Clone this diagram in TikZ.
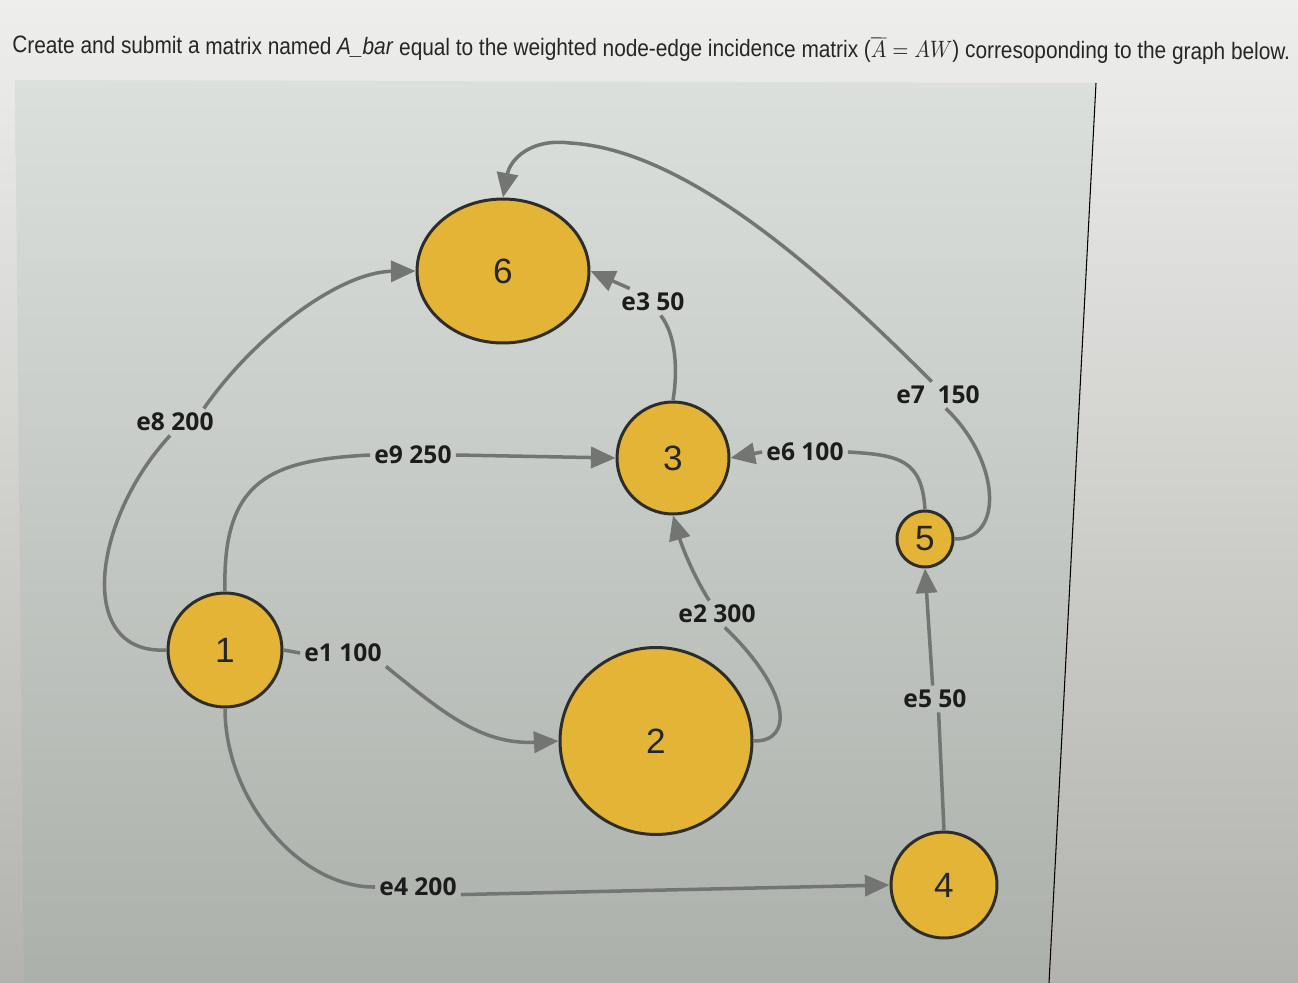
\documentclass[tikz,border=0pt]{standalone}
\usepackage{fontspec}
\setmainfont{Liberation Sans}
\newfontfamily\lblfont{Open Sans}
\usetikzlibrary{arrows.meta,shapes.geometric,calc}
\definecolor{nodefill}{HTML}{E4B437}
\definecolor{nodeline}{HTML}{2D2D2A}
\definecolor{edgecol}{HTML}{737573}
\definecolor{lbltext}{HTML}{1C1C1C}
\definecolor{bgtop}{HTML}{EEEEEC}
\definecolor{bgbot}{HTML}{B2B3AE}
\definecolor{paneltop}{HTML}{DCE0DC}
\definecolor{panelbot}{HTML}{ACB0AB}
\begin{document}
\begin{tikzpicture}[x=0.02cm,y=-0.02cm,
  vert/.style={circle,draw=nodeline,line width=1.7pt,fill=nodefill,inner sep=0pt,text=black!85,font=\fontsize{20}{24}\selectfont},
  lbl/.style={font=\lblfont\bfseries\fontsize{14}{16}\selectfont,text=lbltext,inner sep=2.3pt},
  edge/.style={draw=edgecol,line width=2pt},
  arr/.style={edge,-{Triangle[length=14pt,width=12pt]}}]
\useasboundingbox (0,0) rectangle (1298,983);
% background
\shade[top color=bgtop,bottom color=bgbot] (0,0) rectangle (1298,983);
\shade[top color=paneltop,bottom color=panelbot] (15,80) -- (1096,83) -- (1049,983) -- (24,983) -- cycle;
\draw[black,line width=0.6pt] (1096,83) -- (1049,983);
% title
\node[anchor=base west,inner sep=0pt,rotate=-0.3,text=black!85] (title) at (12,53)
  {\resizebox{25.56cm}{0.42cm}{Create and submit a matrix named \textit{A\_bar} equal to the weighted node-edge incidence matrix ($\overline{A} = AW$) corresoponding to the graph below.}};
% nodes
\node[vert,ellipse,minimum width=3.44cm,minimum height=2.88cm] (n6) at (503,271) {6};
\node[vert,minimum size=2.24cm] (n3) at (673,458) {3};
\node[vert,minimum size=1.12cm] (n5) at (925,539) {5};
\node[vert,minimum size=2.28cm] (n1) at (225,650) {1};
\node[vert,ellipse,minimum width=3.84cm,minimum height=3.74cm] (n2) at (656,741) {2};
\node[vert,minimum size=2.12cm] (n4) at (944,885) {4};
% labels
\node[lbl] (e8) at (175,422) {e8 200};
\node[lbl] (e9) at (413,455) {e9 250};
\node[lbl] (e1) at (343,653) {e1 100};
\node[lbl] (e4) at (418,887) {e4 200};
\node[lbl] (e2) at (717,614) {e2 300};
\node[lbl] (e3) at (653,302) {e3 50};
\node[lbl] (e6) at (805,452) {e6 100};
\node[lbl] (e7) at (938,395) {e7~ 150};
\node[lbl] (e5) at (935,699) {e5 50};
\coordinate (e7top) at (570,143);
% edges
\draw[edge] (n1.west) .. controls (75,655) and (92,520) .. (e8.-110);
\draw[arr] (e8.25) .. controls (255,335) and (340,272) .. (n6.west);
\draw[edge] (n1.north) .. controls (222,480) and (270,460) .. (e9.west);
\draw[arr] (e9.east) -- (n3.west);
\draw[edge] (n1.east) -- (e1.west);
\draw[arr] (e1.south east) .. controls (440,710) and (480,745) .. (n2.west);
\draw[edge] (n1.south) .. controls (225,800) and (300,888) .. (e4.west);
\draw[arr] (e4.-10) -- (n4.west);
\draw[edge] (n2.east) .. controls (795,742) and (790,690) .. (e2.-60);
\draw[arr] (e2.120) .. controls (690,570) and (680,540) .. (n3.south);
\draw[edge] (n3.north) .. controls (678,370) and (676,335) .. (e3.-60);
\draw[arr] (e3.150) -- (n6.east);
\draw[edge] (n5.north) .. controls (922,460) and (900,455) .. (e6.east);
\draw[arr] (e6.west) -- (n3.east);
\draw[edge] (n5.east) .. controls (1005,540) and (1000,460) .. (e7.-60);
\draw[arr] (e7.115) .. controls (830,280) and (690,150) .. (e7top) .. controls (530,138) and (510,160) .. (n6.north);
\draw[edge] (n4.north) -- (e5.-75);
\draw[arr] (e5.100) -- (n5.south);
\end{tikzpicture}
\end{document}
